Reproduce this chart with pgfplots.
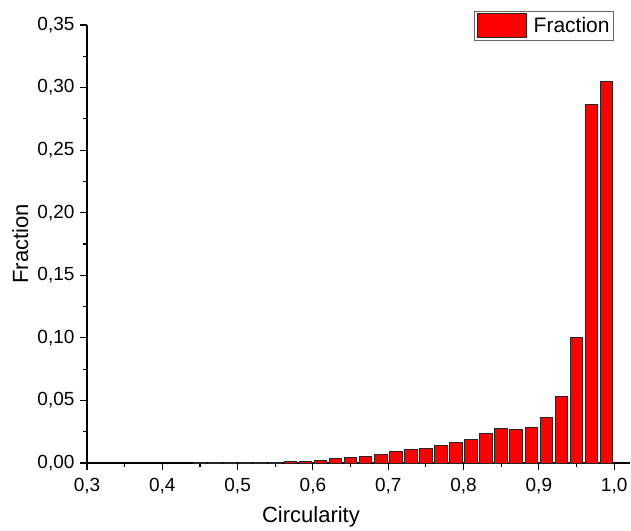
\documentclass[border=0pt]{standalone}
\usepackage{pgfplots}
\pgfplotsset{compat=1.18}
\usepackage{fontspec}
\setmainfont{Liberation Sans}
\begin{document}
\begin{tikzpicture}
\begin{axis}[
  scale only axis,
  width=543pt, height=438pt,
  xmin=0.3, xmax=1.021,
  ymin=0, ymax=0.35,
  axis x line=bottom, axis y line=left,
  axis line style={-, line width=1.1pt},
  tick align=outside,
  major tick length=7pt, minor tick length=4pt,
  tick style={line width=1.1pt, black},
  xtick={0.3,0.4,0.5,0.6,0.7,0.8,0.9,1.0},
  ytick={0,0.05,0.1,0.15,0.2,0.25,0.3,0.35},
  minor x tick num=1, minor y tick num=1,
  xticklabel style={yshift=-5pt, /pgf/number format/.cd, fixed, fixed zerofill, precision=1, use comma, assume math mode=true},
  yticklabel style={xshift=-2pt, /pgf/number format/.cd, fixed, fixed zerofill, precision=2, use comma, assume math mode=true},
  scaled ticks=false,
  tick label style={font=\fontsize{19}{22}\selectfont},
  label style={font=\fontsize{22}{26}\selectfont},
  xlabel={Circularity},
  ylabel={Fraction},
  xlabel style={at={(axis description cs:0.4125,0)}, anchor=north, yshift=-40pt},
  ylabel style={at={(axis description cs:0,0.5)}, yshift=55pt},
  ybar, bar width=0.0168, bar shift=0pt,
  legend style={at={(0.9705,1.032)}, anchor=north east, draw=black!60, line width=0.8pt,
    font=\fontsize{21}{24}\selectfont, inner sep=2pt, cells={anchor=west},
    /tikz/every odd column/.append style={column sep=5pt}},
  legend image code/.code={\draw[#1, fill=red, draw=black!85, line width=1pt] (0pt,-12pt) rectangle (49pt,12pt);},
]
\addplot[fill=red, draw=black!85, line width=1pt] coordinates {
(0.45,0.0001) (0.47,0.0001) (0.49,0.0002) (0.51,0.0003) (0.53,0.0005)
(0.55,0.0008) (0.57,0.0010) (0.59,0.0013) (0.61,0.0023) (0.63,0.0032)
(0.65,0.0044) (0.67,0.0053) (0.69,0.0068) (0.71,0.0088) (0.73,0.0104)
(0.75,0.0117) (0.77,0.0136) (0.79,0.0160) (0.81,0.0187) (0.83,0.0232)
(0.85,0.0275) (0.87,0.0269) (0.89,0.0285) (0.91,0.0360) (0.93,0.0533)
(0.95,0.1000) (0.97,0.2865) (0.99,0.3045)
};
\addlegendentry{Fraction}
\end{axis}
\pgfresetboundingbox
\path[use as bounding box] (current axis.south west) ++(-87pt,-67pt) rectangle ++(631pt,530pt);
\end{tikzpicture}
\end{document}
